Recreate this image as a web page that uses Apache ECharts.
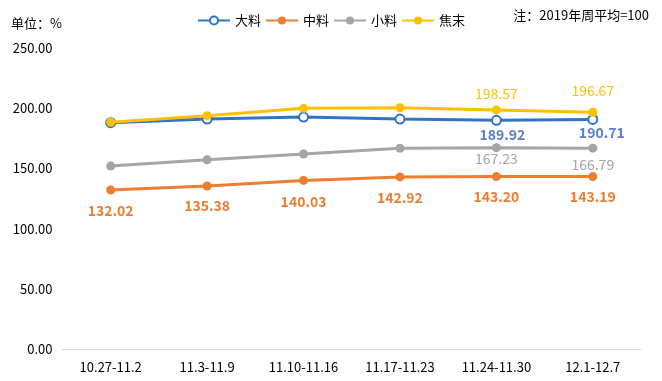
<!DOCTYPE html>
<html><head><meta charset="utf-8">
<script src="https://cdn.jsdelivr.net/npm/echarts@6/dist/echarts.min.js"></script>
<style>html,body{margin:0;padding:0;background:#fff}#c{width:662px;height:381px}</style>
</head><body><div id="c"></div>
<script>
const categories = ['10.27-11.2','11.3-11.9','11.10-11.16','11.17-11.23','11.24-11.30','12.1-12.7'];
const daLiao = [188.0, 191.0, 192.6, 191.0, 189.92, 190.71];
const zhongLiao = [132.02, 135.38, 140.03, 142.92, 143.20, 143.19];
const xiaoLiao = [152.0, 157.2, 162.0, 166.7, 167.23, 166.79];
const jiaoMo = [188.3, 193.8, 199.9, 200.4, 198.57, 196.67];
const yTicks = [0, 50, 100, 150, 200, 250];

const FONT = '"Noto Sans CJK SC", "Open Sans", sans-serif';
function lab(show, color, bold, offset) {
  return { show: show, position: 'inside', offset: offset, color: color, fontSize: 14,
    fontWeight: bold ? 'bold' : 'normal', fontFamily: FONT,
    formatter: p => p.value.toFixed(2) };
}
function mk(arr, labelIdx, color, bold, offsets) {
  return arr.map((v, i) => {
    const k = labelIdx.indexOf(i);
    return { value: v, label: k >= 0 ? lab(true, color, bold, offsets[k]) : { show: false } };
  });
}
const chart = echarts.init(document.getElementById('c'));
chart.setOption({
  animation: false,
  textStyle: { fontFamily: FONT },
  title: [
    { text: '单位：%', left: 6, top: 12, textStyle: { fontSize: 13, fontWeight: 'normal', color: '#000', fontFamily: FONT } },
    { text: '注：2019年周平均=100', right: 8, top: 4, textStyle: { fontSize: 13, fontWeight: 'normal', color: '#000', fontFamily: FONT } }
  ],
  legend: {
    top: 9, left: 'center', itemWidth: 32, itemHeight: 10, itemGap: 4,
    textStyle: { fontSize: 13, color: '#000', fontFamily: FONT },
    data: ['大料', '中料', '小料', '焦末']
  },
  grid: { left: 62.5, right: 21, top: 48, bottom: 32, containLabel: false },
  xAxis: {
    type: 'category', data: categories, boundaryGap: true,
    axisLine: { lineStyle: { color: '#D9D9D9', width: 1 } },
    axisTick: { show: false },
    axisLabel: { color: '#000', fontSize: 13, margin: 12, fontFamily: FONT }
  },
  yAxis: {
    type: 'value', min: yTicks[0], max: yTicks[yTicks.length - 1], interval: 50,
    axisLine: { show: false }, axisTick: { show: false }, splitLine: { show: false },
    axisLabel: { color: '#000', fontSize: 13, margin: 10, fontFamily: FONT, formatter: v => v.toFixed(2) }
  },
  series: [
    { name: '大料', type: 'line', symbol: 'emptyCircle', symbolSize: 9, z: 3,
      itemStyle: { color: '#2E75C8', borderWidth: 1.5 }, lineStyle: { width: 3, color: '#2E75C8' },
      data: mk(daLiao, [4, 5], '#5B7FC4', true, [[6, 14], [9, 13]]) },
    { name: '中料', type: 'line', symbol: 'circle', symbolSize: 9,
      itemStyle: { color: '#ED7D31' }, lineStyle: { width: 3, color: '#ED7D31' },
      data: mk(zhongLiao, [0, 1, 2, 3, 4, 5], '#ED7D31', true, [[0, 21], [0, 20], [0, 21], [0, 21], [0, 20], [0, 20]]) },
    { name: '小料', type: 'line', symbol: 'circle', symbolSize: 9,
      itemStyle: { color: '#A5A5A5' }, lineStyle: { width: 3, color: '#A5A5A5' },
      data: mk(xiaoLiao, [4, 5], '#A5A5A5', false, [[0, 11], [0, 17]]) },
    { name: '焦末', type: 'line', symbol: 'circle', symbolSize: 9, z: 4,
      itemStyle: { color: '#FFC000' }, lineStyle: { width: 3, color: '#FFC000' },
      data: mk(jiaoMo, [4, 5], '#FFC000', false, [[0, -16], [0, -22]]) }
  ]
});
</script></body></html>
